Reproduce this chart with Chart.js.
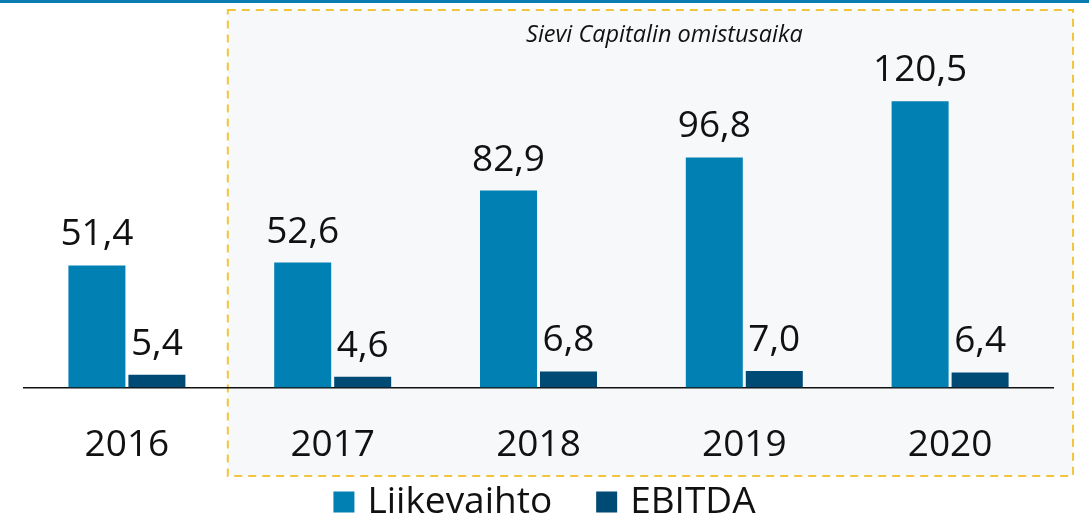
<!DOCTYPE html>
<html>
<head>
<meta charset="utf-8">
<script src="https://cdn.jsdelivr.net/npm/chart.js@4.4.1/dist/chart.umd.min.js"></script>
<style>
  html, body { margin: 0; padding: 0; background: #fff; }
  #wrap { width: 1089px; height: 518px; position: relative; }
</style>
</head>
<body>
<div id="wrap"><canvas id="chart"></canvas></div>
<script>
  const years = ['2016', '2017', '2018', '2019', '2020'];
  const liikevaihto = [51.4, 52.6, 82.9, 96.8, 120.5];
  const ebitda = [5.4, 4.6, 6.8, 7.0, 6.4];
  const seriesNames = ['Liikevaihto', 'EBITDA'];
  const ownershipLabel = 'Sievi Capitalin omistusaika';

  const FONT = "'Open Sans', 'Noto Sans', sans-serif";

  function fmt(v) {
    return v.toFixed(1).replace('.', ',');
  }

  // top stripe + dashed ownership box behind the bars
  const backdrop = {
    id: 'backdrop',
    beforeDraw(chart) {
      const ctx = chart.ctx;
      const area = chart.chartArea;
      const x = chart.scales.x;
      const half = (x.getPixelForValue(1) - x.getPixelForValue(0)) / 2;
      const left = x.getPixelForValue(1) - half - 2;
      const right = area.right + 20;
      const top = 10, bottom = 476;
      ctx.save();
      ctx.fillStyle = '#0b7bb4';
      ctx.fillRect(0, 0, chart.width, 3);
      ctx.fillStyle = '#f7f8fa';
      ctx.fillRect(left, top, right - left, bottom - top);
      ctx.strokeStyle = '#f2c53d';
      ctx.lineWidth = 2;
      ctx.setLineDash([8, 6]);
      ctx.strokeRect(left, top, right - left, bottom - top);
      ctx.setLineDash([]);
      ctx.fillStyle = '#111';
      ctx.font = 'italic 23.5px ' + FONT;
      ctx.textAlign = 'center';
      ctx.textBaseline = 'middle';
      ctx.fillText(ownershipLabel, (left + right) / 2 + 14, 35);
      ctx.restore();
    }
  };

  // value labels above bars + legend along the bottom
  const labelsAndLegend = {
    id: 'labelsAndLegend',
    afterDraw(chart) {
      const ctx = chart.ctx;
      ctx.save();
      ctx.fillStyle = '#111';
      ctx.font = '37px ' + FONT;
      ctx.textAlign = 'center';
      ctx.textBaseline = 'alphabetic';
      chart.data.datasets.forEach(function (ds, i) {
        chart.getDatasetMeta(i).data.forEach(function (bar, j) {
          ctx.fillText(fmt(ds.data[j]), bar.x, bar.y - 20);
        });
      });

      ctx.font = '37px ' + FONT;
      const box = 21, gapText = 13, gapItem = 44;
      const items = chart.data.datasets.map(function (ds) {
        return { label: ds.label, color: ds.backgroundColor, w: ctx.measureText(ds.label).width };
      });
      let total = 0;
      items.forEach(function (it, k) {
        total += box + gapText + it.w + (k < items.length - 1 ? gapItem : 0);
      });
      let cx = (chart.width - total) / 2;
      const cy = 502;
      ctx.textAlign = 'left';
      ctx.textBaseline = 'middle';
      items.forEach(function (it) {
        ctx.fillStyle = it.color;
        ctx.fillRect(cx, cy - box / 2, box, box);
        cx += box + gapText;
        ctx.fillStyle = '#111';
        ctx.fillText(it.label, cx, cy);
        cx += it.w + gapItem;
      });
      ctx.restore();
    }
  };

  new Chart(document.getElementById('chart'), {
    type: 'bar',
    data: {
      labels: years,
      datasets: [
        { label: seriesNames[0], data: liikevaihto, backgroundColor: '#0080b3' },
        { label: seriesNames[1], data: ebitda, backgroundColor: '#004a76' }
      ]
    },
    options: {
      responsive: true,
      maintainAspectRatio: false,
      animation: false,
      categoryPercentage: 0.583,
      barPercentage: 0.95,
      layout: { padding: { left: 24, right: 36, top: 31, bottom: 14 } },
      plugins: {
        legend: { display: false },
        tooltip: { enabled: false }
      },
      scales: {
        x: {
          grid: { display: false, drawTicks: false },
          border: { display: true, color: '#111', width: 1.5 },
          ticks: { color: '#111', padding: 36, font: { family: FONT, size: 37 } }
        },
        y: {
          display: false,
          min: 0,
          max: 150
        }
      }
    },
    plugins: [backdrop, labelsAndLegend]
  });
</script>
</body>
</html>
